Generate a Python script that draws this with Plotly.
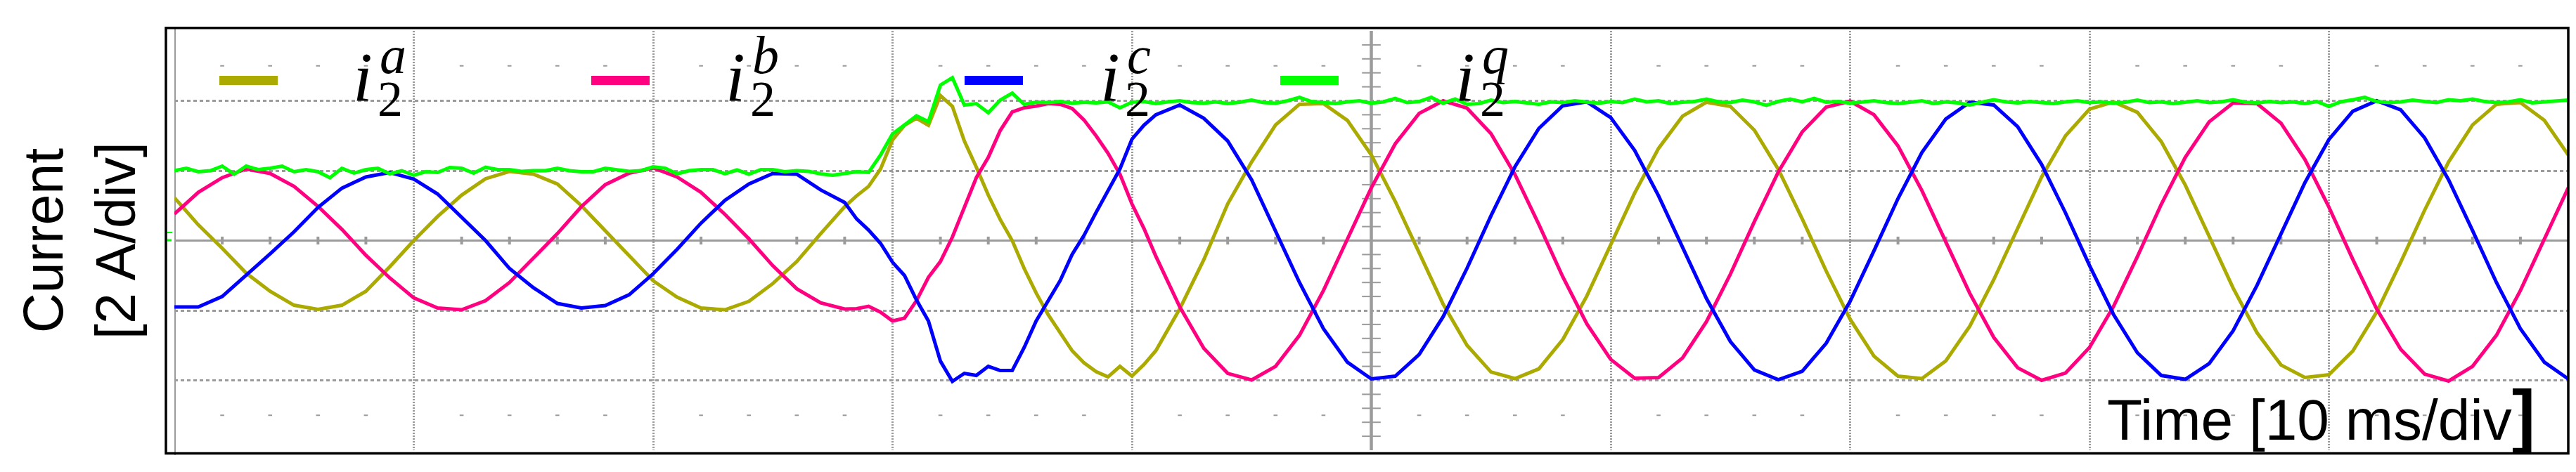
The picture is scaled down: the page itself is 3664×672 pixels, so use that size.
import plotly.graph_objects as go

# ---------------- data (time in ms, current in A) ----------------
t = [0, 1, 2, 3, 4, 5, 6, 7, 8, 9, 10, 11, 12, 13, 14, 15, 16, 17, 18, 19,
     20, 21, 22, 23, 24, 25, 26, 27,
     28, 28.5, 29, 29.5, 30, 30.5, 31, 31.5, 32, 32.5, 33, 33.5, 34, 34.5,
     35, 35.5, 36, 36.5, 37, 37.5, 38, 38.5, 39, 39.5, 40, 40.5,
     41, 42, 43, 44, 45, 46, 47, 48, 49, 50, 51, 52, 53, 54, 55, 56, 57, 58, 59, 60,
     61, 62, 63, 64, 65, 66, 67, 68, 69, 70, 71, 72, 73, 74, 75, 76, 77, 78, 79, 80,
     81, 82, 83, 84, 85, 86, 87, 88, 89, 90, 91, 92, 93, 94, 95, 96, 97, 98, 99, 100]

i2_a = [1.23, 0.45, -0.22, -0.93, -1.45, -1.85, -1.97, -1.85, -1.45, -0.75,
        0.00, 0.69, 1.30, 1.77, 1.98, 1.90, 1.62, 1.00, 0.28, -0.45,
        -1.15, -1.62, -1.93, -1.98, -1.74, -1.23, -0.60, 0.20,
        0.97, 1.28, 1.55, 2.05, 2.88, 3.30, 3.50, 3.30, 4.15, 3.84, 2.85, 2.10, 1.30, 0.60,
        0.00, -0.80, -1.50, -2.12, -2.62, -3.15, -3.50, -3.75, -3.90, -3.60, -3.88, -3.55,
        -3.15, -1.95, -0.55, 1.05, 2.25, 3.31, 3.90, 3.92, 3.44, 2.45, 1.12, -0.38, -1.82, -3.00, -3.76, -3.95, -3.67, -2.83, -1.59, -0.12,
        1.36, 2.64, 3.56, 3.96, 3.84, 3.16, 2.04, 0.62, -0.87, -2.25, -3.31, -3.88, -3.95, -3.44, -2.45, -1.12, 0.38, 1.82, 3.00, 3.76,
        3.97, 3.67, 2.83, 1.59, 0.12, -1.36, -2.64, -3.56, -3.92, -3.84, -3.16, -2.04, -0.62, 0.87, 2.25, 3.31, 3.90, 3.95, 3.44, 2.45]

i2_b = [0.76, 1.38, 1.80, 2.05, 1.92, 1.55, 0.98, 0.32, -0.42, -1.07,
        -1.64, -1.93, -1.98, -1.72, -1.20, -0.50, 0.20, 0.97, 1.60, 1.93,
        2.08, 1.82, 1.38, 0.75, 0.05, -0.72, -1.38, -1.78,
        -1.96, -1.95, -1.88, -2.05, -2.30, -2.22, -1.72, -1.05, -0.60, 0.10, 0.95, 1.80, 2.38, 3.15,
        3.68, 3.80, 3.85, 3.92, 3.90, 3.78, 3.45, 3.00, 2.50, 1.90, 1.05, 0.35,
        -0.45, -1.90, -3.08, -3.80, -3.99, -3.60, -2.71, -1.43, 0.04, 1.51, 2.77, 3.64, 4.00, 3.79, 3.06, 1.89, 0.46, -1.04, -2.38, -3.40,
        -3.94, -3.92, -3.36, -2.32, -0.96, 0.54, 1.96, 3.11, 3.82, 3.99, 3.60, 2.71, 1.43, -0.04, -1.51, -2.77, -3.64, -4.00, -3.79, -3.06,
        -1.89, -0.46, 1.04, 2.38, 3.40, 3.94, 3.92, 3.36, 2.32, 0.96, -0.54, -1.96, -3.11, -3.82, -4.02, -3.60, -2.71, -1.43, 0.04, 1.51]

i2_c = [-1.90, -1.90, -1.60, -1.00, -0.38, 0.25, 0.95, 1.50, 1.82, 1.95,
        1.76, 1.33, 0.66, 0.00, -0.80, -1.35, -1.80, -1.93, -1.86, -1.55,
        -0.95, -0.25, 0.50, 1.15, 1.62, 1.92, 1.90, 1.45,
        1.09, 0.62, 0.30, -0.08, -0.62, -1.00, -1.70, -2.30, -3.45, -4.03, -3.80, -3.86, -3.60, -3.72,
        -3.72, -3.06, -2.30, -1.72, -1.15, -0.40, 0.15, 0.80, 1.40, 2.05, 2.90, 3.30,
        3.60, 3.88, 3.50, 2.85, 1.74, 0.29, -1.20, -2.52, -3.48, -3.96, -3.88, -3.26, -2.18, -0.79, 0.71, 2.11, 3.21, 3.86, 3.97, 3.52,
        2.58, 1.28, -0.21, -1.66, -2.89, -3.70, -3.98, -3.74, -2.94, -1.74, -0.29, 1.20, 2.52, 3.48, 3.96, 3.88, 3.26, 2.18, 0.79, -0.71,
        -2.11, -3.21, -3.86, -3.97, -3.52, -2.58, -1.28, 0.21, 1.66, 2.89, 3.70, 4.00, 3.74, 2.94, 1.74, 0.29, -1.20, -2.52, -3.48, -3.96]

# q-axis current, sampled every 0.5 ms (each row = 5 ms)
i2_q = [2.00, 2.07, 1.97, 2.00, 2.13, 1.90, 2.13, 2.03, 2.07, 2.13,
        1.97, 2.03, 1.97, 1.80, 2.07, 1.93, 2.03, 2.07, 1.91, 2.00,
        1.87, 1.97, 1.95, 2.09, 2.07, 1.93, 2.10, 2.03, 2.03, 1.98,
        2.00, 2.00, 2.07, 2.00, 1.97, 1.97, 2.07, 2.03, 1.98, 2.00,
        2.11, 2.07, 1.91, 2.00, 2.03, 2.03, 1.91, 2.02, 1.90, 2.03,
        2.03, 1.97, 2.00, 1.98, 1.91, 1.87, 1.93, 1.97, 1.95, 2.45,
        3.05, 3.32, 3.57, 3.40, 4.45, 4.66, 3.88, 3.92, 3.66, 4.02,
        4.22, 3.90, 3.96, 3.95, 3.98, 3.93, 3.96, 3.94, 3.97, 3.80,
        3.96, 3.98, 3.92, 3.97, 4.00, 3.95, 3.93, 3.97, 3.92, 3.96,
        4.02, 3.95, 3.93, 4.00, 4.10, 3.98, 3.95, 3.92, 3.97, 4.00,
        3.93, 3.97, 4.07, 3.95, 3.98, 4.10, 3.93, 4.05, 3.90, 3.92,
        4.02, 3.95, 3.98, 3.94, 3.90, 3.97, 3.95, 4.00, 3.96, 3.93,
        3.98, 3.95, 4.05, 3.97, 4.00, 3.92, 3.96, 3.98, 4.05, 3.97,
        3.95, 4.02, 3.97, 3.87, 3.98, 4.05, 3.97, 4.07, 3.96, 3.98,
        3.93, 3.97, 4.00, 3.95, 3.92, 3.96, 4.00, 3.92, 3.97, 3.94,
        3.88, 3.96, 4.03, 3.97, 3.94, 3.98, 3.96, 3.92, 3.97, 4.00,
        3.95, 3.97, 3.93, 3.96, 4.02, 3.95, 3.97, 3.92, 3.96, 4.00,
        3.95, 3.97, 4.03, 3.96, 3.94, 3.98, 3.95, 3.97, 3.92, 3.98,
        3.84, 3.97, 4.03, 4.10, 3.98, 3.95, 3.97, 4.02, 3.98, 3.95,
        4.03, 4.00, 4.05, 3.98, 3.95, 3.97, 4.03, 3.94, 3.97, 4.00,
        4.02]
t_q = [k * 0.5 for k in range(len(i2_q))]

series_names = ["a", "b", "c", "q"]
series_colors = ["#ABAA00", "#FF0080", "#0000FF", "#00FF00"]
legend_i_left = [502, 1032, 1565, 2070]
legend_bar_left = [304, 833, 1364, 1813]

# ---------------- geometry ----------------
W, H = 3664, 672
ML, MR, MT, MB = 240, 19, 36, 39
PW = W - ML - MR
PH = H - MT - MB
GRID = "#9b9b9b"


def px(x):
    return (x - ML) / PW


def py(y):
    return (H - MB - y) / PH


fig = go.Figure()

# decorations: minor ticks of the scope graticule
minor_x = [k * 2 for k in range(1, 50) if k % 5 != 0]
minor_y = [k * 0.4 for k in range(-14, 15) if k % 5 != 0]
fig.add_trace(go.Scatter(x=minor_x, y=[0] * len(minor_x), mode="markers",
                         marker=dict(symbol="line-ns", size=8, line=dict(width=4, color=GRID)),
                         hoverinfo="skip", showlegend=False))
for yy in (5, -5):
    fig.add_trace(go.Scatter(x=minor_x, y=[yy] * len(minor_x), mode="markers",
                             marker=dict(symbol="line-ew", size=4, line=dict(width=2, color=GRID)),
                             hoverinfo="skip", showlegend=False))
fig.add_trace(go.Scatter(x=[50] * len(minor_y), y=minor_y, mode="markers",
                         marker=dict(symbol="line-ew", size=19, line=dict(width=2, color=GRID)),
                         hoverinfo="skip", showlegend=False))

# data traces
data = [(t, i2_a), (t, i2_b), (t, i2_c), (t_q, i2_q)]
for (xs, ys), name, col in zip(data, series_names, series_colors):
    fig.add_trace(go.Scatter(x=xs, y=ys, mode="lines", name="i2" + name,
                             line=dict(color=col, width=5), hoverinfo="skip",
                             showlegend=False))

shapes = []
# center cross lines and left edge of screen
shapes.append(dict(type="line", xref="x", yref="y", x0=0, x1=100, y0=0, y1=0,
                   line=dict(color=GRID, width=3), layer="between"))
shapes.append(dict(type="line", xref="x", yref="y", x0=50, x1=50, y0=-6, y1=6,
                   line=dict(color=GRID, width=4.5), layer="between"))
shapes.append(dict(type="line", xref="x", yref="paper", x0=0, x1=0, y0=py(640), y1=py(33),
                   line=dict(color=GRID, width=4), layer="between"))
# small ground marker of the scope channel at the left edge
shapes.append(dict(type="line", xref="paper", yref="paper", x0=px(230), x1=px(237),
                   y0=py(323), y1=py(323), line=dict(color="#00FF00", width=2), layer="above"))
shapes.append(dict(type="line", xref="paper", yref="paper", x0=px(230), x1=px(236),
                   y0=py(334), y1=py(334), line=dict(color="#00FF00", width=3), layer="above"))
# frame
shapes.append(dict(type="rect", xref="paper", yref="paper", x0=px(228), x1=px(3645),
                   y0=py(637.5), y1=py(31.7), line=dict(color="black", width=3.5),
                   fillcolor="rgba(0,0,0,0)", layer="above"))
# legend bars
for bl, col in zip(legend_bar_left, series_colors):
    shapes.append(dict(type="rect", xref="paper", yref="paper", x0=px(bl), x1=px(bl + 83),
                       y0=py(113), y1=py(100), line=dict(width=0), fillcolor=col, layer="above"))

annotations = []
SERIF = "Liberation Serif, Times New Roman, serif"
SANS = "Liberation Sans, Arial, sans-serif"
FI, F2, FS = 100, 72, 76
for il, nm in zip(legend_i_left, series_names):
    annotations.append(dict(text="<i>i</i>", xref="paper", yref="paper", x=px(il - 10),
                            y=py(135 - 0.3375 * FI), xanchor="left", yanchor="middle",
                            showarrow=False, font=dict(family=SERIF, size=FI, color="black")))
    annotations.append(dict(text="2", xref="paper", yref="paper", x=px(il + 25),
                            y=py(157 - 0.3375 * F2), xanchor="left", yanchor="middle",
                            showarrow=False, font=dict(family=SERIF, size=F2, color="black")))
    annotations.append(dict(text="<i>" + nm + "</i>", xref="paper", yref="paper", x=px(il + 28),
                            y=py(96 - 0.3375 * FS), xanchor="left", yanchor="middle",
                            showarrow=False, font=dict(family=SERIF, size=FS, color="black")))

annotations.append(dict(text="Current<br>[2 A/div]", xref="paper", yref="paper",
                        x=px(104.5), y=py(334.5), xanchor="center", yanchor="middle",
                        textangle=-90, showarrow=False,
                        font=dict(family=SANS, size=79, color="black")))
annotations.append(dict(text="Time [10 ms/div<span style=\"font-size:100px;font-weight:bold\">]</span>",
                        xref="paper", yref="paper",
                        x=px(3293), y=py(611 - 0.3465 * 82), xanchor="center", yanchor="middle",
                        showarrow=False, font=dict(family=SANS, size=82, color="black")))

fig.update_layout(
    width=W, height=H,
    margin=dict(l=ML, r=MR, t=MT, b=MB, pad=0),
    paper_bgcolor="white", plot_bgcolor="white",
    xaxis=dict(range=[0, 100], dtick=10, tick0=0, showgrid=True, gridcolor=GRID,
               gridwidth=3, griddash="2px,2px", zeroline=False, showline=False,
               showticklabels=False, ticks=""),
    yaxis=dict(range=[-6, 6], dtick=2, tick0=0, showgrid=True, gridcolor=GRID,
               gridwidth=2.5, griddash="5px,4px", zeroline=False, showline=False,
               showticklabels=False, ticks=""),
    shapes=shapes, annotations=annotations, showlegend=False,
)

fig.write_html("out.html")
